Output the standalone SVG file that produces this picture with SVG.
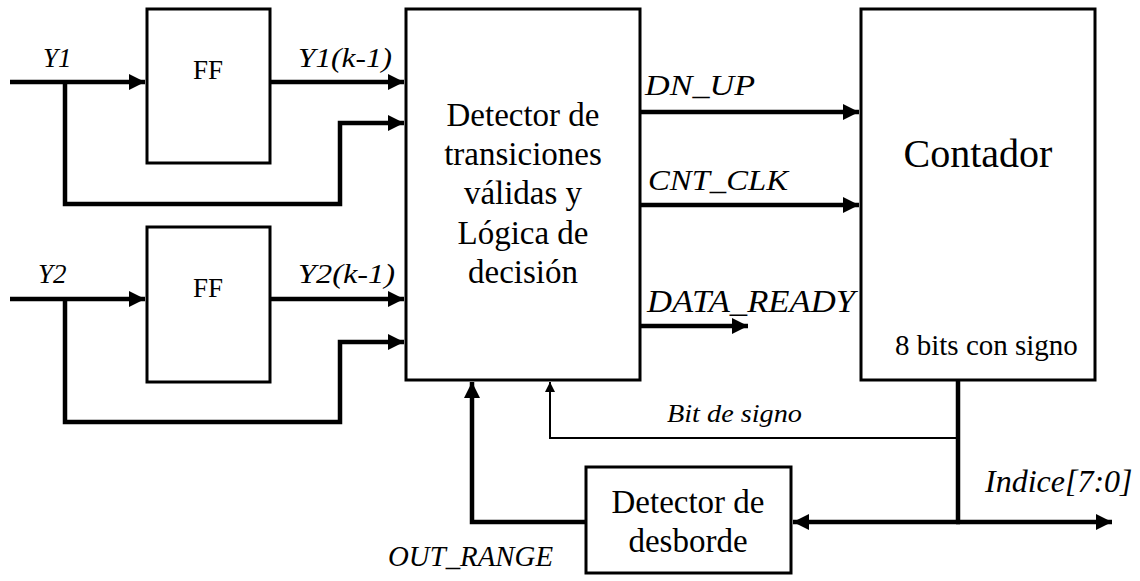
<svg xmlns="http://www.w3.org/2000/svg" width="1140" height="581" viewBox="0 0 1140 581">
  <style>
    svg text { font-family: 'Liberation Serif', 'Times New Roman', Times, serif !important; }
    svg text.lbl { font-style: italic !important; }
    .box { fill: #ffffff; stroke: #000000; stroke-width: 3; }
  </style>
  <defs>
    <marker id="arr" viewBox="0 0 16 16" refX="16" refY="8" markerWidth="16" markerHeight="16" markerUnits="userSpaceOnUse" orient="auto">
      <path d="M0,0 L16,8 L0,16 Z" fill="#000000"/>
    </marker>
    <marker id="arrSmall" viewBox="0 0 10 10" refX="10" refY="5" markerWidth="10" markerHeight="10" markerUnits="userSpaceOnUse" orient="auto">
      <path d="M0,0 L10,5 L0,10 Z" fill="#000000"/>
    </marker>
  </defs>

  <rect width="1140" height="581" fill="#ffffff"/>

  <!-- connectors: thick signal wires share one stroke setting -->
  <g id="connectors" fill="none" stroke="#000000" stroke-width="4.5">
    <!-- Y1 input and its copy to the detector -->
    <path d="M10,82 H145" marker-end="url(#arr)"/>
    <path d="M65,82 V204 H340 V123 H404" marker-end="url(#arr)"/>
    <path d="M270,82 H404" marker-end="url(#arr)"/>
    <!-- Y2 input and its copy to the detector -->
    <path d="M10,299 H145" marker-end="url(#arr)"/>
    <path d="M65,299 V422 H340 V342 H404" marker-end="url(#arr)"/>
    <path d="M270,299 H404" marker-end="url(#arr)"/>
    <!-- detector outputs -->
    <path d="M640,112 H859" marker-end="url(#arr)"/>
    <path d="M640,205 H859" marker-end="url(#arr)"/>
    <path d="M636,326 H748" marker-end="url(#arr)"/>
    <!-- counter output bus -->
    <path d="M958,380 V522"/>
    <path d="M956,522 H1112" marker-end="url(#arr)"/>
    <path d="M960,522 H793" marker-end="url(#arr)"/>
    <!-- sign bit feedback (thin) -->
    <path d="M958,438 H550 V382" stroke-width="2" marker-end="url(#arrSmall)"/>
    <!-- overflow flag feedback -->
    <path d="M586,522 H472 V382" marker-end="url(#arr)"/>
  </g>

  <!-- flip-flop for Y1 -->
  <g id="ff1">
    <rect class="box" x="147" y="9" width="123" height="154"/>
    <text x="208" y="79" font-family="Liberation Serif" font-size="27" text-anchor="middle">FF</text>
  </g>

  <!-- flip-flop for Y2 -->
  <g id="ff2">
    <rect class="box" x="147" y="227" width="123" height="155"/>
    <text x="208" y="297" font-family="Liberation Serif" font-size="27" text-anchor="middle">FF</text>
  </g>

  <!-- transition detector and decision logic -->
  <g id="detector">
    <rect class="box" x="406" y="9" width="234" height="371"/>
    <text x="523" y="126" font-family="Liberation Serif" font-size="33" text-anchor="middle">Detector de</text>
    <text x="523" y="165" font-family="Liberation Serif" font-size="33" text-anchor="middle">transiciones</text>
    <text x="523" y="204" font-family="Liberation Serif" font-size="33" text-anchor="middle">válidas y</text>
    <text x="523" y="244" font-family="Liberation Serif" font-size="33" text-anchor="middle">Lógica de</text>
    <text x="523" y="283" font-family="Liberation Serif" font-size="33" text-anchor="middle">decisión</text>
  </g>

  <!-- signed 8-bit counter -->
  <g id="contador">
    <rect class="box" x="861" y="9" width="234" height="371"/>
    <text x="978" y="167" font-family="Liberation Serif" font-size="40" text-anchor="middle">Contador</text>
    <text x="895" y="355" font-family="Liberation Serif" font-size="29">8 bits con signo</text>
  </g>

  <!-- overflow detector -->
  <g id="desborde">
    <rect class="box" x="586" y="467" width="205" height="106"/>
    <text x="688" y="513" font-family="Liberation Serif" font-size="33" text-anchor="middle">Detector de</text>
    <text x="688" y="552" font-family="Liberation Serif" font-size="33" text-anchor="middle">desborde</text>
  </g>

  <!-- signal labels -->
  <g id="labels">
    <text class="lbl" x="43" y="67" font-family="Liberation Serif" font-style="italic" font-size="27">Y1</text>
    <text class="lbl" x="298" y="67" font-family="Liberation Serif" font-style="italic" font-size="28" textLength="94" lengthAdjust="spacingAndGlyphs">Y1(k-1)</text>
    <text class="lbl" x="38" y="283" font-family="Liberation Serif" font-style="italic" font-size="27">Y2</text>
    <text class="lbl" x="298" y="283" font-family="Liberation Serif" font-style="italic" font-size="28" textLength="97" lengthAdjust="spacingAndGlyphs">Y2(k-1)</text>
    <text class="lbl" x="645" y="95" font-family="Liberation Serif" font-style="italic" font-size="30" textLength="110" lengthAdjust="spacingAndGlyphs">DN_UP</text>
    <text class="lbl" x="648" y="190" font-family="Liberation Serif" font-style="italic" font-size="30" textLength="140" lengthAdjust="spacingAndGlyphs">CNT_CLK</text>
    <text class="lbl" x="647" y="312" font-family="Liberation Serif" font-style="italic" font-size="31" textLength="208" lengthAdjust="spacingAndGlyphs">DATA_READY</text>
    <text class="lbl" x="667" y="422" font-family="Liberation Serif" font-style="italic" font-size="26" textLength="135" lengthAdjust="spacingAndGlyphs">Bit de signo</text>
    <text class="lbl" x="985" y="492" font-family="Liberation Serif" font-style="italic" font-size="32">Indice[7:0]</text>
    <text class="lbl" x="388" y="566" font-family="Liberation Serif" font-style="italic" font-size="29" textLength="165" lengthAdjust="spacingAndGlyphs">OUT_RANGE</text>
  </g>
</svg>
